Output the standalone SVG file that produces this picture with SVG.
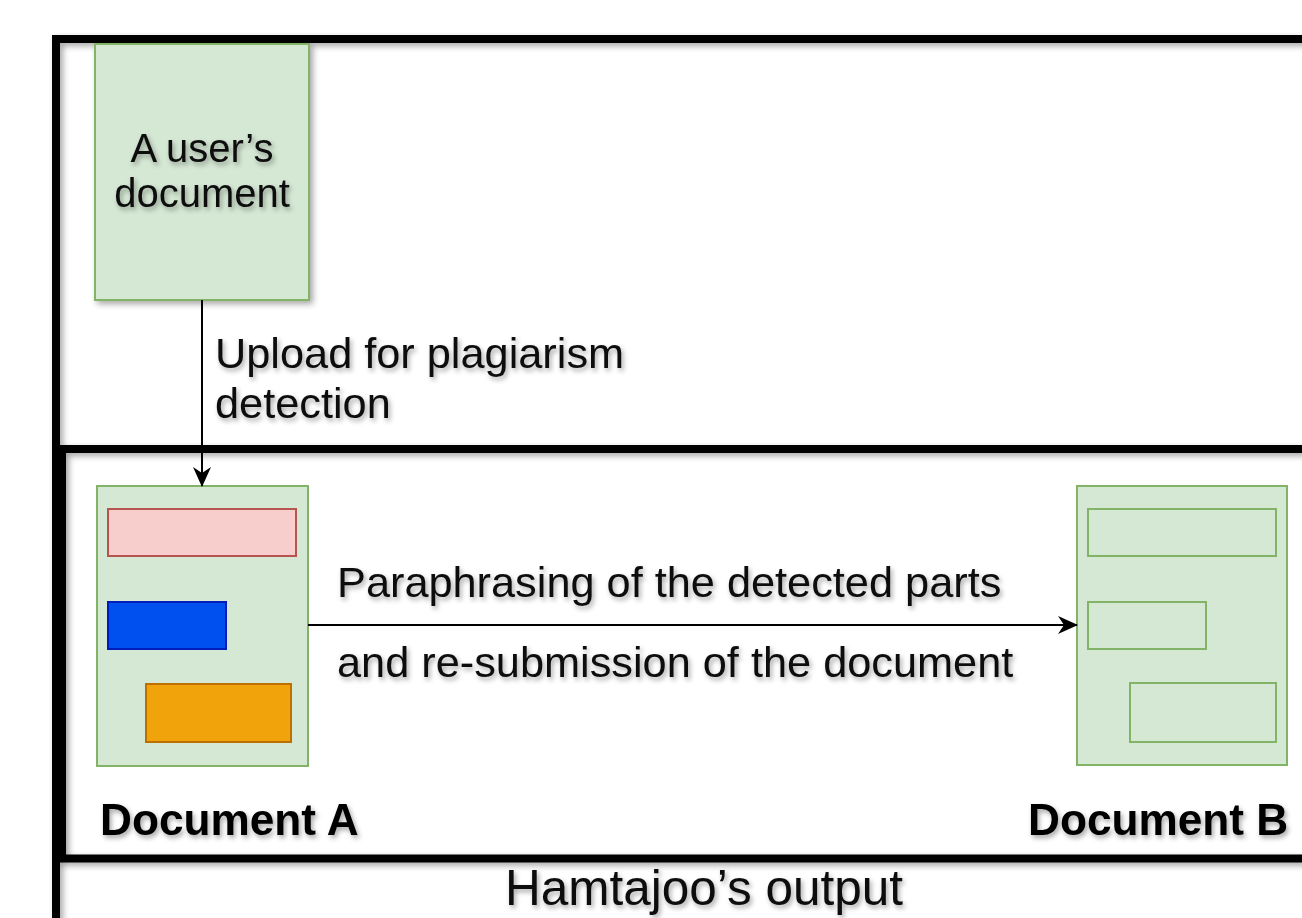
<svg xmlns="http://www.w3.org/2000/svg" width="1302" height="918" viewBox="0 0 1302 918">
<defs>
<filter id="sh" x="-10%" y="-10%" width="130%" height="130%">
<feDropShadow dx="3" dy="3" stdDeviation="3" flood-color="#000" flood-opacity="0.35"/>
</filter>
<filter id="tsh" x="-5%" y="-20%" width="115%" height="160%">
<feDropShadow dx="2" dy="3" stdDeviation="2.5" flood-color="#000" flood-opacity="0.35"/>
</filter>
<marker id="arr" viewBox="0 0 20 20" refX="19" refY="10" markerWidth="20" markerHeight="20" markerUnits="userSpaceOnUse" orient="auto">
<path d="M0,1 L20,10 L0,19 L6,10 Z" fill="#000"/>
</marker>
<style>
.frame{fill:none;stroke:#000;stroke-width:8}
.doc{fill:#d5e8d4;stroke:#82b366;stroke-width:2}
.t{font-family:"Liberation Sans",Arial,sans-serif;fill:#111}
.b{font-family:"Liberation Sans",Arial,sans-serif;font-weight:bold;fill:#000}
</style>
</defs>
<rect width="1302" height="918" fill="#fff"/>
<g id="outer-frame" filter="url(#sh)">
<rect class="frame" x="56" y="39" width="1300" height="1000"/>
</g>
<g id="output-frame" filter="url(#sh)">
<rect class="frame" x="62" y="449" width="1300" height="409.5"/>
</g>
<g id="user-doc">
<rect class="doc" x="95" y="44" width="214" height="256" filter="url(#sh)"/>
<g class="t" font-size="40" text-anchor="middle" filter="url(#tsh)">
<text x="202" y="162">A user’s</text>
<text x="202" y="207">document</text>
</g>
</g>
<g id="document-a">
<rect class="doc" x="97" y="486" width="211" height="280"/>
<rect x="108" y="509" width="188" height="47" fill="#f8cecc" stroke="#b85450" stroke-width="2"/>
<rect x="108" y="602" width="118" height="47" fill="#0050ef" stroke="#001dbc" stroke-width="2"/>
<rect x="146" y="684" width="145" height="58" fill="#f0a30a" stroke="#bd7000" stroke-width="2"/>
<text class="b" x="100" y="835" font-size="44.2" filter="url(#tsh)">Document A</text>
</g>
<g id="document-b">
<rect class="doc" x="1077" y="486" width="210" height="279"/>
<rect x="1088" y="509" width="188" height="47" fill="none" stroke="#82b366" stroke-width="2"/>
<rect x="1088" y="602" width="118" height="47" fill="none" stroke="#82b366" stroke-width="2"/>
<rect x="1130" y="683" width="146" height="59" fill="none" stroke="#82b366" stroke-width="2"/>
<text class="b" x="1028" y="835" font-size="44.2" filter="url(#tsh)">Document B</text>
</g>
<g id="connectors" stroke="#000" stroke-width="2" fill="none">
<path d="M202,300 L202,486" marker-end="url(#arr)"/>
<path d="M308,625 L1077,625" marker-end="url(#arr)"/>
</g>
<g id="labels" class="t" font-size="43.3" filter="url(#tsh)">
<text x="215" y="368">Upload for plagiarism</text>
<text x="215" y="418">detection</text>
<text x="337" y="597">Paraphrasing of the detected parts</text>
<text x="337" y="677">and re-submission of the document</text>
<text x="704" y="905" font-size="49.5" text-anchor="middle">Hamtajoo’s output</text>
</g>
</svg>
